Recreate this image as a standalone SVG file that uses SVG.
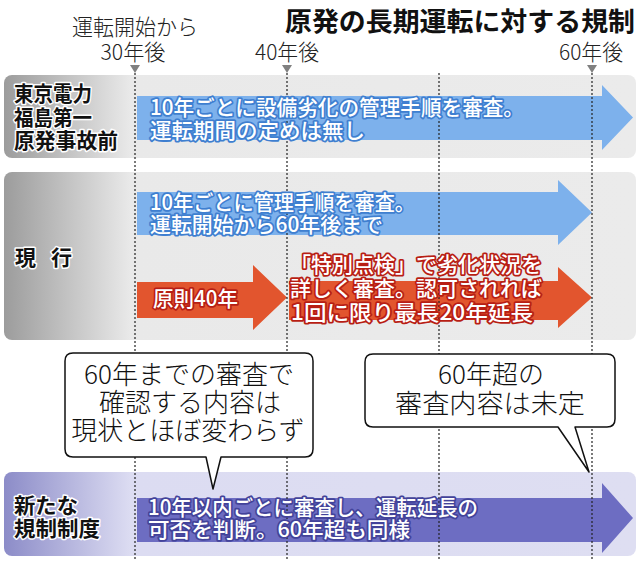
<svg xmlns="http://www.w3.org/2000/svg" width="640" height="561" viewBox="0 0 640 561">
<defs>
<linearGradient id="gGrey" x1="0" y1="0" x2="1" y2="0" gradientUnits="objectBoundingBox">
<stop offset="0" stop-color="#9c9c9c"/>
<stop offset="0.2" stop-color="#e9e9e9"/>
<stop offset="1" stop-color="#ebebeb"/>
</linearGradient>
<linearGradient id="gLav" x1="0" y1="0" x2="1" y2="0">
<stop offset="0" stop-color="#8c8cc8"/>
<stop offset="0.2" stop-color="#dcdcf2"/>
<stop offset="1" stop-color="#dedef2"/>
</linearGradient>
<style>
text{font-family:"Noto Sans CJK JP","Noto Sans",sans-serif;}
.hdr{font-size:22px;font-weight:300;fill:#222;}
.title{font-size:26px;font-weight:bold;fill:#111;}
.lbl{font-size:21px;font-weight:bold;fill:#111;stroke:#fff;stroke-width:3;paint-order:stroke;stroke-linejoin:round;}
.tb{font-size:21px;font-weight:500;fill:#fff;stroke:#3f7fd0;stroke-width:3.5;paint-order:stroke;stroke-linejoin:round;}
.tr{font-size:21px;font-weight:500;fill:#fff;stroke:#b81e14;stroke-width:3.5;paint-order:stroke;stroke-linejoin:round;}
.tp{font-size:21px;font-weight:500;fill:#fff;stroke:#43439a;stroke-width:3.5;paint-order:stroke;stroke-linejoin:round;}
.call{font-size:26px;font-weight:300;fill:#111;text-anchor:middle;}
.box{fill:#fff;stroke:#111;stroke-width:1.5;stroke-linejoin:round;}
.dash{stroke:#222;stroke-width:1.2;stroke-dasharray:2 2;fill:none;}
.tri{fill:#808080;}
</style>
</defs>

<g id="header">
<text class="title" x="635" y="31" text-anchor="end" textLength="350" lengthAdjust="spacingAndGlyphs">原発の長期運転に対する規制</text>
<text class="hdr" x="135" y="35" text-anchor="middle" textLength="126" lengthAdjust="spacingAndGlyphs">運転開始から</text>
<text class="hdr" x="133" y="60" text-anchor="middle" textLength="65" lengthAdjust="spacingAndGlyphs">30年後</text>
<text class="hdr" x="287" y="60" text-anchor="middle" textLength="64" lengthAdjust="spacingAndGlyphs">40年後</text>
<text class="hdr" x="591" y="60" text-anchor="middle" textLength="64" lengthAdjust="spacingAndGlyphs">60年後</text>
<polygon class="tri" points="130,65 140,65 135,73"/>
<polygon class="tri" points="282,65 292,65 287,73"/>
<polygon class="tri" points="587,65 597,65 592,73"/>
</g>

<g id="panel-before">
<rect x="4" y="75" width="632" height="83" rx="8" fill="url(#gGrey)"/>
</g>
<g id="panel-current">
<rect x="4" y="172" width="632" height="168" rx="8" fill="url(#gGrey)"/>
</g>
<g id="panel-new">
<rect x="4" y="472" width="632" height="84" rx="8" fill="url(#gLav)"/>
</g>

<g id="arrows">
<polygon id="arrow-before" fill="#7db1ec" points="137,96 602,96 602,85 633,117.5 602,150 602,140 137,140"/>
<polygon id="arrow-current-blue" fill="#7db1ec" points="137,192 558,192 558,180 592,212.5 558,245 558,235 137,235"/>
<polygon id="arrow-red-40" fill="#e2552e" points="137,282 253,282 253,265 287,297.5 253,330 253,318 137,318"/>
<polygon id="arrow-red-ext" fill="#e2552e" points="289,281 558,281 558,267 592,297.5 558,328 558,320 289,320"/>
<polygon id="arrow-new" fill="#6d6dc2" points="137,498 602,498 602,483 633,518 602,553 602,542 137,542"/>
</g>

<g id="connectors">
<line class="dash" x1="135" y1="73" x2="135" y2="561"/>
<line class="dash" x1="287" y1="73" x2="287" y2="561"/>
<line class="dash" x1="439" y1="73" x2="439" y2="561"/>
<line class="dash" x1="592" y1="73" x2="592" y2="561"/>
</g>

<g id="labels">
<text class="lbl" x="14" y="101" textLength="78" lengthAdjust="spacingAndGlyphs">東京電力</text>
<text class="lbl" x="14" y="125" textLength="78" lengthAdjust="spacingAndGlyphs">福島第一</text>
<text class="lbl" x="14" y="148" textLength="104" lengthAdjust="spacingAndGlyphs">原発事故前</text>
<text class="lbl" x="15" y="265">現</text>
<text class="lbl" x="51" y="265">行</text>
<text class="lbl" x="14" y="513" textLength="64" lengthAdjust="spacingAndGlyphs">新たな</text>
<text class="lbl" x="14" y="536" textLength="86" lengthAdjust="spacingAndGlyphs">規制制度</text>
</g>

<g id="arrow-texts">
<text class="tb" x="150" y="115" textLength="374" lengthAdjust="spacingAndGlyphs">10年ごとに設備劣化の管理手順を審査。</text>
<text class="tb" x="150" y="138" textLength="215" lengthAdjust="spacingAndGlyphs">運転期間の定めは無し</text>
<text class="tb" x="150" y="210" textLength="265" lengthAdjust="spacingAndGlyphs">10年ごとに管理手順を審査。</text>
<text class="tb" x="150" y="232" textLength="233" lengthAdjust="spacingAndGlyphs">運転開始から60年後まで</text>
<text class="tr" x="153" y="306" textLength="85" lengthAdjust="spacingAndGlyphs">原則40年</text>
<text class="tr" x="290" y="272" textLength="252" lengthAdjust="spacingAndGlyphs">「特別点検」で劣化状況を</text>
<text class="tr" x="290" y="296" textLength="252" lengthAdjust="spacingAndGlyphs">詳しく審査。認可されれば</text>
<text class="tr" x="291" y="320" textLength="242" lengthAdjust="spacingAndGlyphs">1回に限り最長20年延長</text>
<text class="tp" x="148" y="515" textLength="330" lengthAdjust="spacingAndGlyphs">10年以内ごとに審査し、運転延長の</text>
<text class="tp" x="148" y="537" textLength="262" lengthAdjust="spacingAndGlyphs">可否を判断。60年超も同様</text>
</g>

<g id="callout-left">
<path class="box" d="M73,353 H305 Q313,353 313,361 V449 Q313,457 305,457 H221 L213,489 L206,457 H73 Q65,457 65,449 V361 Q65,353 73,353 Z"/>
<text class="call" x="189" y="384">60年までの審査で</text>
<text class="call" x="190" y="412">確認する内容は</text>
<text class="call" x="188" y="440">現状とほぼ変わらず</text>
</g>

<g id="callout-right">
<path class="box" d="M373,354 H607 Q615,354 615,362 V419 Q615,427 607,427 H575 L589,472 L558,427 H373 Q365,427 365,419 V362 Q365,354 373,354 Z"/>
<text class="call" x="491" y="384">60年超の</text>
<text class="call" x="490" y="413" textLength="190" lengthAdjust="spacingAndGlyphs">審査内容は未定</text>
</g>
</svg>
